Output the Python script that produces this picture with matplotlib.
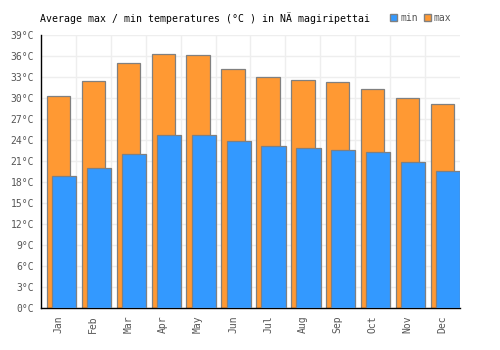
import numpy as np
import matplotlib.pyplot as plt
from matplotlib.patches import Patch

# Monthly averages (deg C)
months = ['Jan', 'Feb', 'Mar', 'Apr', 'May', 'Jun',
          'Jul', 'Aug', 'Sep', 'Oct', 'Nov', 'Dec']
t_max = [30.3, 32.4, 35.0, 36.3, 36.1, 34.1, 33.0, 32.6, 32.3, 31.3, 30.0, 29.1]
t_min = [18.9, 20.0, 22.0, 24.7, 24.7, 23.9, 23.1, 22.9, 22.6, 22.3, 20.9, 19.6]
y_ticks = list(range(0, 40, 3))

blue = '#3399ff'
orange = '#ff9933'
edge = '#808080'

plt.rcParams['font.family'] = 'DejaVu Sans Mono'

fig = plt.figure(figsize=(5, 3.5), dpi=100)
ax = fig.add_axes([0.082, 0.12, 0.838, 0.78])

x = np.arange(len(months))
ax.bar(x, t_max, width=0.67, color=orange, edgecolor=edge, linewidth=0.9, zorder=2)
ax.bar(x + 0.16, t_min, width=0.69, color=blue, edgecolor=edge, linewidth=0.9, zorder=3)

ax.set_xlim(-0.5, 11.5)
ax.set_ylim(0, 39)
ax.set_yticks(y_ticks)
ax.set_yticklabels([f'{v}°C' for v in y_ticks])
ax.set_xticks(x)
ax.set_xticklabels(months, rotation=90)
ax.set_xticks(x[:-1] + 0.5, minor=True)
ax.tick_params(which='both', length=0, colors='#555555', labelsize=7)
ax.tick_params(axis='y', pad=5)
ax.tick_params(axis='x', pad=5)

ax.grid(axis='y', color='#eeeeee', linewidth=1, zorder=0)
ax.grid(axis='x', which='minor', color='#eeeeee', linewidth=1, zorder=0)
ax.set_axisbelow(True)

for s in ['top', 'right']:
    ax.spines[s].set_visible(False)
for s in ['left', 'bottom']:
    ax.spines[s].set_color('black')
    ax.spines[s].set_linewidth(1.0)

fig.text(0.08, 1 - 18 / 350, 'Average max / min temperatures (°C ) in NÄ magiripettai',
         fontsize=7.1, va='center', ha='left', color='black')

handles = [Patch(facecolor=blue, edgecolor=edge, label='min'),
           Patch(facecolor=orange, edgecolor=edge, label='max')]
ax.legend(handles=handles, loc='center right', bbox_to_anchor=(0.98, 1 + 17 / 273),
          ncol=2, frameon=False, fontsize=7, labelcolor='#555555',
          handlelength=0.75, handleheight=0.75, handletextpad=0.3,
          columnspacing=0.6, borderpad=0, borderaxespad=0)

fig.savefig('out.png', dpi=100)
